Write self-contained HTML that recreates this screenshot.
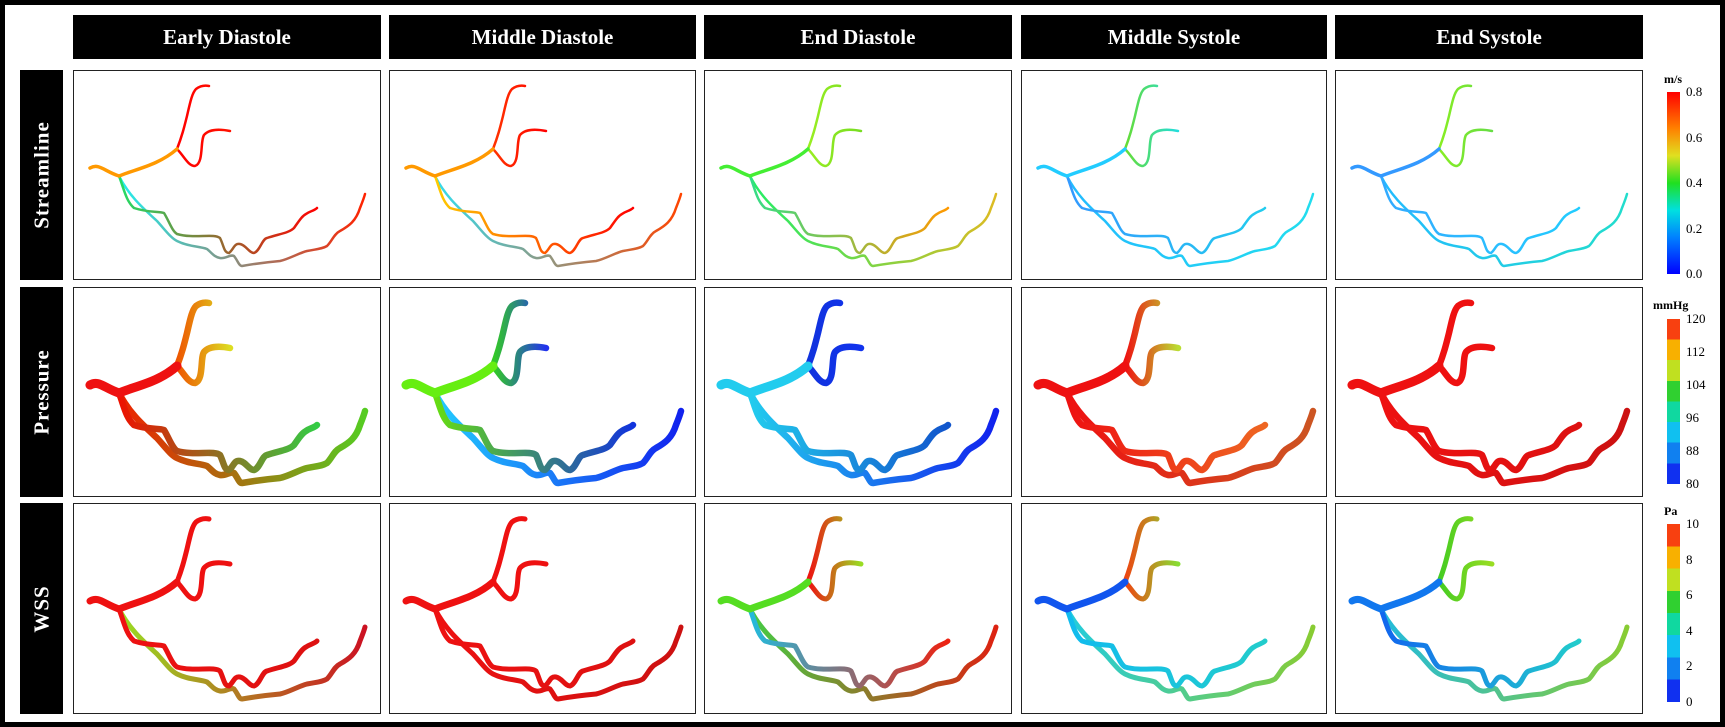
<!DOCTYPE html>
<html><head><meta charset="utf-8">
<style>
html,body{margin:0;padding:0;background:#fff}
#fig{position:relative;width:1725px;height:727px;background:#fff;overflow:hidden;font-family:"Liberation Serif",serif}
.frame{position:absolute;left:0;top:0;width:1725px;height:727px;box-sizing:border-box;border:5px solid #000}
.hdr{position:absolute;top:15px;height:44px;background:#000;color:#fff;font-weight:bold;font-size:21px;display:flex;align-items:center;justify-content:center}
.rl{position:absolute;left:20px;width:43px;background:#000;color:#fff;font-weight:bold;font-size:21px}
.rl span{position:absolute;left:50%;top:50%;transform:translate(-50%,-50%) rotate(-90deg);white-space:nowrap;letter-spacing:1px}
.pn{position:absolute;box-sizing:border-box;border:1.5px solid #222;background:#fff}
.pn svg{position:absolute;left:0;top:0}
.cb{position:absolute;left:1667px;width:13px}
.cbl{position:absolute;font-size:13px;color:#000}
.unit{position:absolute;font-size:12px;font-weight:bold}
</style></head>
<body>
<div id="fig">
<div class="frame"></div>
</div>
<script>
const columns=["Early Diastole","Middle Diastole","End Diastole","Middle Systole","End Systole"];
const rows=["Streamline","Pressure","WSS"];
const colX=[73,389,704,1021,1335];
const colW=[308,307,308,306,308];
const rowY=[70,287,503];
const rowH=[210,210,211];
const widths=[2.5,6.5,5];
// per panel colors: [trunk, upperStart, upperEnd, A start, A end, B start, B end]
const palette=[
 [["#f90","#f00","#f10","#2d6","#f00","#2ee","#f20"],["#f90","#f30","#f00","#fc0","#f00","#3de","#f40"],["#4e3","#9e2","#7d2","#3d8","#f90","#2e6","#db2"],["#2cf","#6d3","#2dd","#39f","#2ce","#2bf","#2de"],["#39f","#8e2","#6d4","#3af","#2cf","#2bf","#2dc"]],
 [["#e11","#e50","#dd2","#e10","#3c4","#e20","#5c2"],["#6e1","#3c2","#23e","#6d1","#13d","#2cf","#12e"],["#2ce","#13d","#13e","#2ce","#15c","#2ce","#12e"],["#e11","#e11","#bd3","#e11","#e62","#e11","#c52"],["#e11","#e11","#e11","#e11","#d11","#e11","#c11"]],
 [["#e11","#e11","#e11","#e11","#d11","#9d2","#c12"],["#e11","#e11","#e11","#e11","#d11","#e11","#c11"],["#5d2","#e11","#9d2","#2bd","#e21","#4c4","#d21"],["#15e","#e41","#8d3","#1be","#2cc","#2cd","#8c3"],["#17e","#4c2","#9d2","#16e","#2cc","#2bd","#8c3"]]
];
const trunkD="M16 97 C25 92 30 100 45 105 C62 98 85 94 103 78";
const upperD="M103 78 C108 65 110 57 113 45 C116 32 118 22 122 18 C126 15 130 14 135 15 M103 78 C110 85 114 95 121 95 C130 92 126 70 130 64 C135 58 146 58 156 60";
const aD="M45 105 C50 118 52 130 60 137 C75 142 85 140 90 142 C95 150 98 160 103 163 C120 168 140 162 146 167 C150 175 150 182 155 182 C160 178 160 172 166 173 C172 174 175 182 180 182 C186 180 188 168 193 167 C205 163 215 162 220 157 C225 150 228 145 232 143 C236 140 240 140 243 137";
const bD="M45 105 C55 125 70 138 83 150 C92 160 97 167 103 170 C115 176 125 175 133 178 C138 182 140 186 146 187 C152 188 156 183 160 185 C164 190 165 195 168 195 C185 192 195 191 206 190 C215 188 225 182 233 180 C243 178 248 178 253 175 C258 170 260 163 266 160 C275 155 282 150 286 137 C288 132 290 127 291 123";
const fig=document.getElementById('fig');
const NS="http://www.w3.org/2000/svg";
columns.forEach((c,i)=>{
 const d=document.createElement('div');d.className='hdr';
 d.style.left=colX[i]+'px';d.style.width=colW[i]+'px';d.textContent=c;
 
 
 fig.appendChild(d);
});
rows.forEach((r,j)=>{
 const d=document.createElement('div');d.className='rl';
 d.style.top=rowY[j]+'px';d.style.height=rowH[j]+'px';
 d.innerHTML='<span>'+r+'</span>';
 
 
 fig.appendChild(d);
});
let gid=0;
function grad(defs,a,b){
 const g=document.createElementNS(NS,'linearGradient');const id='g'+(gid++);g.setAttribute('id',id);
 const s1=document.createElementNS(NS,'stop');s1.setAttribute('offset','0');s1.setAttribute('stop-color',a);
 const s2=document.createElementNS(NS,'stop');s2.setAttribute('offset','1');s2.setAttribute('stop-color',b);
 g.appendChild(s1);g.appendChild(s2);defs.appendChild(g);return 'url(#'+id+')';
}
rows.forEach((r,j)=>{columns.forEach((c,i)=>{
 const p=document.createElement('div');p.className='pn';
 p.style.left=colX[i]+'px';p.style.top=rowY[j]+'px';p.style.width=colW[i]+'px';p.style.height=rowH[j]+'px';
 
 
 const s=document.createElementNS(NS,'svg');s.setAttribute('width',colW[i]);s.setAttribute('height',rowH[j]);
 const defs=document.createElementNS(NS,'defs');s.appendChild(defs);
 const pc=palette[j][i];
 const segs=[[bD,pc[5],pc[6],'vessel-lower-b'],[aD,pc[3],pc[4],'vessel-lower-a'],[upperD,pc[1],pc[2],'vessel-upper'],[trunkD,pc[0],pc[0],'vessel-trunk']];
 segs.forEach(sg=>{
  const pa=document.createElementNS(NS,'path');pa.setAttribute('d',sg[0]);
  pa.setAttribute('fill','none');pa.setAttribute('stroke',grad(defs,sg[1],sg[2]));
  pa.setAttribute('stroke-width',sg[3]==='vessel-trunk'?widths[j]*1.4:widths[j]);
  pa.setAttribute('stroke-linecap','round');pa.setAttribute('stroke-linejoin','round');
  
  
  s.appendChild(pa);
 });
 p.appendChild(s);fig.appendChild(p);
});});
// colorbars
const cbUnits=["m/s","mmHg","Pa"];
const cbLabels=[["0.8","0.6","0.4","0.2","0.0"],["120","112","104","96","88","80"],["10","8","6","4","2","0"]];
const cbTop=[92,319,524];
const cbBot=[274,484,702];
const unitY=[72,298,504];
const jet="linear-gradient(to top,#0000ff,#0080ff 20%,#00e0e0 35%,#20e020 50%,#e0e020 65%,#ff8000 80%,#ff0000)";
cbUnits.forEach((u,k)=>{
 const un=document.createElement('div');un.className='unit';un.textContent=u;
 un.style.left=(u==='mmHg'?1653:1664)+'px';un.style.top=unitY[k]+'px';
 
 
 fig.appendChild(un);
 const b=document.createElement('div');b.className='cb';
 b.style.top=cbTop[k]+'px';b.style.height=(cbBot[k]-cbTop[k])+'px';
 b.style.background=k===0?jet:'linear-gradient(to top,#1030f0 0 12.5%,#1080f0 12.5% 25%,#10c0f0 25% 37.5%,#10d8a0 37.5% 50%,#30d030 50% 62.5%,#c0e020 62.5% 75%,#f8b000 75% 87.5%,#f84010 87.5%)';
 
 
 fig.appendChild(b);
 const L=cbLabels[k];
 L.forEach((t,m)=>{
  const l=document.createElement('div');l.className='cbl';l.textContent=t;
  l.style.left='1686px';
  l.style.top=(cbTop[k]+(cbBot[k]-cbTop[k])*m/(L.length-1)-8)+'px';
  
  
  fig.appendChild(l);
 });
});
</script>
</body></html>
